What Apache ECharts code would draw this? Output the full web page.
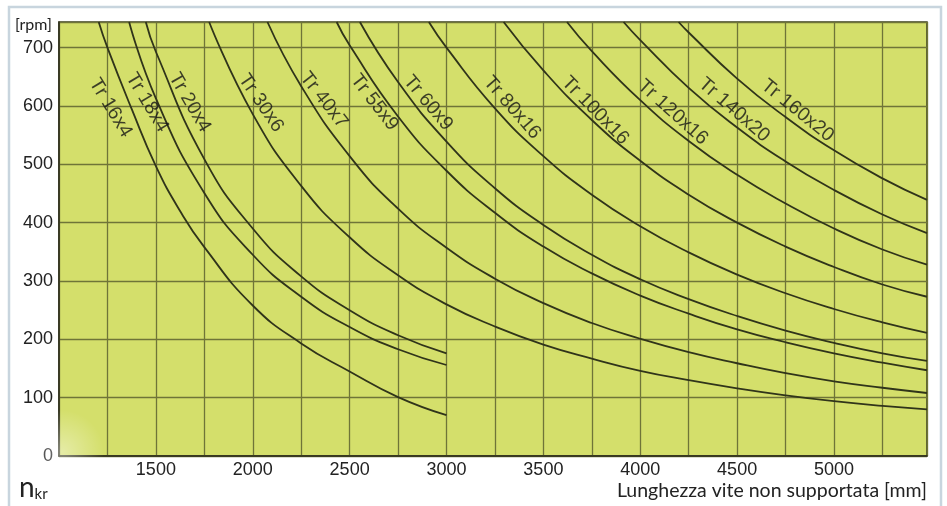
<!DOCTYPE html>
<html><head><meta charset="utf-8">
<script src="https://cdn.jsdelivr.net/npm/echarts@6/dist/echarts.min.js"></script>
<style>html,body{margin:0;padding:0;background:#fff}#c{width:947px;height:506px}</style>
</head><body><div id="c"></div>
<script>
// ---- data ----
const seriesNames = ['Tr 16x4','Tr 18x4','Tr 20x4','Tr 30x6','Tr 40x7','Tr 55x9','Tr 60x9','Tr 80x16','Tr 100x16','Tr 120x16','Tr 140x20','Tr 160x20'];
const tr16x4 = [[1205,744],[1250,700],[1375,595],[1500,497],[1625,420],[1750,358],[2000,258],[2250,193],[2500,145],[2750,101],[3000,70]];
const tr18x4 = [[1362,744],[1500,613],[1750,451],[2000,345],[2250,273],[2500,221],[2750,183],[3000,156]];
const tr20x4 = [[1448,744],[1500,693],[1750,509],[2000,390],[2250,308],[2500,250],[2750,207],[3000,176]];
const tr30x6 = [[1775,744],[2000,586],[2250,463],[2500,375],[2750,310],[3000,260],[3250,222],[3500,191],[3750,167],[4000,146],[4250,130],[4500,116],[4750,104],[5000,94],[5250,86],[5480,80]];
const tr40x7 = [[2076,744],[2250,634],[2500,514],[2750,424],[3000,357],[3250,304],[3500,262],[3750,228],[4000,201],[4250,178],[4500,159],[4750,142],[5000,128],[5250,117],[5480,108]];
const tr55x9 = [[2433,744],[2500,704],[2750,582],[3000,489],[3250,417],[3500,359],[3750,313],[4000,275],[4250,244],[4500,217],[4750,195],[5000,176],[5250,160],[5480,147]];
const tr60x9 = [[2553,744],[2750,641],[3000,539],[3250,459],[3500,396],[3750,345],[4000,303],[4250,269],[4500,240],[4750,215],[5000,194],[5250,176],[5480,163]];
const tr80x16 = [[2909,744],[3000,700],[3250,596],[3500,514],[3750,448],[4000,394],[4250,349],[4500,311],[4750,279],[5000,252],[5250,229],[5480,211]];
const tr100x16 = [[3295,744],[3500,661],[3750,576],[4000,506],[4250,448],[4500,400],[4750,359],[5000,324],[5250,294],[5480,273]];
const tr120x16 = [[3622,744],[3750,694],[4000,610],[4250,540],[4500,482],[4750,433],[5000,390],[5250,354],[5480,328]];
const tr140x20 = [[3914,744],[4000,713],[4250,631],[4500,563],[4750,505],[5000,456],[5250,414],[5480,382]];
const tr160x20 = [[4198,744],[4250,726],[4500,647],[4750,581],[5000,524],[5250,476],[5480,439]];
const xTickLabels = [1500,2000,2500,3000,3500,4000,4500,5000];
const yTickLabels = [0,100,200,300,400,500,600,700];

const curves = [tr16x4,tr18x4,tr20x4,tr30x6,tr40x7,tr55x9,tr60x9,tr80x16,tr100x16,tr120x16,tr140x20,tr160x20];

// ---- layout: where each curve name sits (data units) and its slant ----
const labelLayout = [[1266,597,-58.6],[1455,606,-59],[1675,606,-60],[2043,605,-56],[2367,610,-52],[2628,606,-52.6],[2905,605,-50],[3339,597,-49],[3768,592,-45.7],[4168,589,-42],[4485,593,-41],[4812,592,-39]];

const chart = echarts.init(document.getElementById('c'), null, {renderer:'canvas'});
const series = curves.map((d,i)=>({
  type:'line', name:seriesNames[i], data:d, smooth:true, showSymbol:false, silent:true,
  lineStyle:{color:'#30341a', width:1.8}, z:3
}));
series.push({
  type:'scatter', silent:true, symbolSize:0, z:4,
  data: labelLayout.map((p,i)=>({value:[p[0],p[1]], name:seriesNames[i], label:{rotate:p[2]}})),
  label:{show:true, position:'inside', formatter:p=>p.name, color:'#151515', fontSize:19.5, fontFamily:'Liberation Sans'}
});

chart.setOption({
  animation:false,
  backgroundColor:'#ffffff',
  grid:{left:59, right:20, top:22, bottom:50, show:true, backgroundColor:'#d4df6b', borderColor:'#3a3c22', borderWidth:1.5},
  xAxis:{type:'value', min:1000, max:5480, interval:250,
    axisLine:{show:true, lineStyle:{color:'#2a2a1a', width:1.5}},
    axisTick:{show:false},
    axisLabel:{margin:5, color:'#222', fontSize:18, fontFamily:'Liberation Sans',
      formatter:v=> xTickLabels.indexOf(v)>=0 ? String(v) : '', showMaxLabel:false, showMinLabel:false},
    splitLine:{show:true, lineStyle:{color:'#6f7438', width:1.3}}
  },
  yAxis:{type:'value', min:0, max:744, interval:100,
    axisLine:{show:true, lineStyle:{color:'#2a2a1a', width:1.5}},
    axisTick:{show:false},
    axisLabel:{margin:6, color:'#222', fontSize:18, fontFamily:'Liberation Sans',
      formatter:v=> yTickLabels.indexOf(v)>=0 ? String(v) : '', showMaxLabel:false},
    splitLine:{show:true, lineStyle:{color:'#6f7438', width:1.3}}
  },
  graphic:[
    {type:'rect', shape:{x:9, y:7, width:932, height:530}, style:{fill:null, stroke:'#c8d5de', lineWidth:2.5}, z:-1},
    {type:'circle', shape:{cx:62, cy:452, r:42}, style:{fill:new echarts.graphic.RadialGradient(0.5,0.5,0.5,[{offset:0,color:'rgba(255,255,255,0.4)'},{offset:1,color:'rgba(255,255,255,0)'}])}, z:1},
    {type:'text', left:15, top:17, style:{text:'[rpm]', font:'16px Lato', fill:'#222'}},
    {type:'text', right:20, top:481, style:{text:'Lunghezza vite non supportata [mm]', font:'19.5px Lato', fill:'#222'}},
    {type:'text', left:19, top:474, style:{text:'{n|n}{s|kr}', rich:{n:{font:'28px Lato', fill:'#222', verticalAlign:'bottom'}, s:{font:'15px Lato', fill:'#222', padding:[12,0,0,0]}}}}
  ],
  series:series
});
</script></body></html>
